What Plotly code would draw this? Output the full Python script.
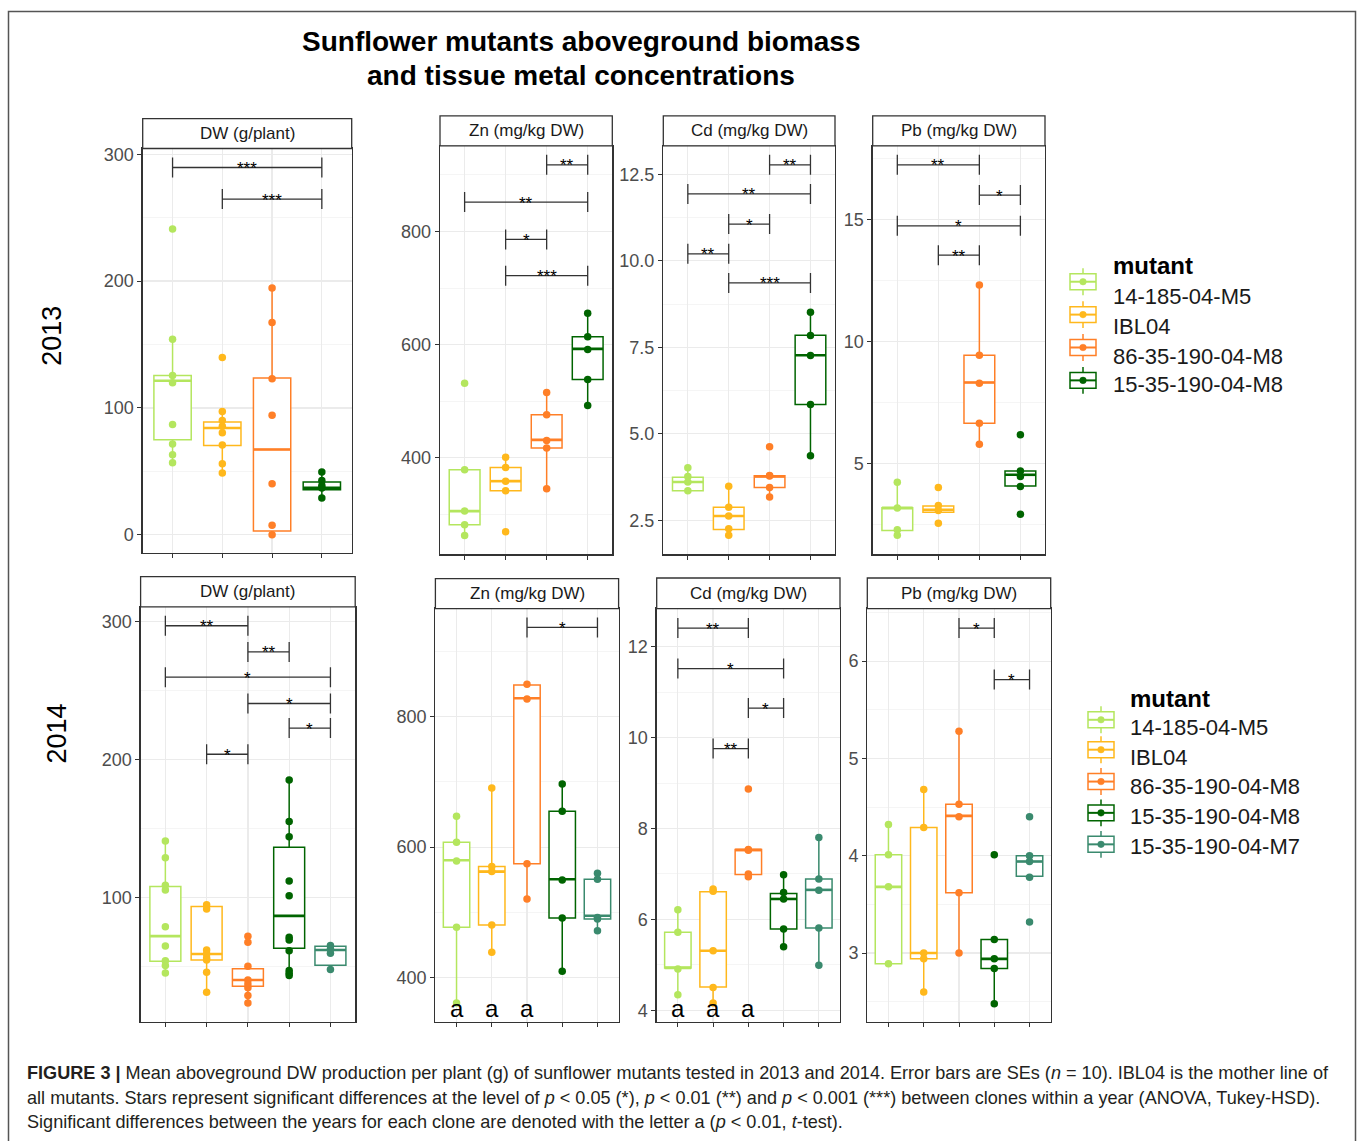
import plotly.graph_objects as go

W, H = 1358, 1141
FONT = "Liberation Sans, Arial, Helvetica, sans-serif"

mutants = ["14-185-04-M5", "IBL04", "86-35-190-04-M8", "15-35-190-04-M8", "15-35-190-04-M7"]
colors = ["#b4e65e", "#ffb81c", "#ff7f27", "#006400", "#3a8a6e"]
panel_titles = ["DW (g/plant)", "Zn (mg/kg DW)", "Cd (mg/kg DW)", "Pb (mg/kg DW)"]
years = ["2013", "2014"]

# ---------------- 2013 ----------------
dw13_points = [[241.1, 154.2, 125.6, 119.8, 86.9, 71.5, 63.0, 56.7],
               [139.7, 97.2, 90.1, 85.6, 80.4, 70.7, 56.0, 48.6],
               [194.6, 167.3, 122.9, 94.3, 40.2, 7.4, 0.0],
               [49.4, 42.8, 38.9, 36.8, 28.9]]
dw13_q1 = [74.9, 70.4, 2.9, 35.5]
dw13_med = [121.4, 84.1, 67.2, 37.0]
dw13_q3 = [125.6, 88.8, 123.5, 41.5]
dw13_lo = [56.7, 48.6, 0.0, 28.9]
dw13_hi = [154.2, 97.2, 194.6, 49.4]
dw13_sig = [(1, 4, 289.5, "***"), (2, 4, 264.6, "***")]

zn13_points = [[531.8, 378.8, 305.9, 281.8, 262.9],
               [401.2, 382.9, 358.8, 341.8, 269.4],
               [515.3, 475.9, 430.6, 417.6, 345.3],
               [655.3, 614.1, 591.2, 538.2, 492.4]]
zn13_q1 = [281.8, 341.8, 417.6, 538.2]
zn13_med = [305.9, 358.8, 431.8, 592.4]
zn13_q3 = [378.8, 382.9, 475.9, 614.1]
zn13_lo = [262.9, 341.8, 345.3, 492.4]
zn13_hi = [378.8, 401.2, 515.3, 655.3]
zn13_sig = [(3, 4, 917.6, "**"), (1, 4, 851.8, "**"), (2, 3, 785.9, "*"), (2, 4, 721.8, "***")]

cd13_points = [[4.02, 3.77, 3.61, 3.36],
               [3.49, 2.88, 2.63, 2.26, 2.07],
               [4.63, 3.80, 3.78, 3.45, 3.18],
               [8.51, 7.84, 7.26, 5.85, 4.37]]
cd13_q1 = [3.36, 2.24, 3.45, 5.85]
cd13_med = [3.61, 2.63, 3.77, 7.27]
cd13_q3 = [3.75, 2.88, 3.79, 7.85]
cd13_lo = [3.36, 2.07, 3.18, 4.37]
cd13_hi = [4.02, 3.49, 3.79, 8.51]
cd13_sig = [(3, 4, 12.77, "**"), (1, 4, 11.93, "**"), (2, 3, 11.06, "*"),
            (1, 2, 10.20, "**"), (2, 4, 9.36, "***")]

pb13_points = [[4.24, 3.19, 2.30, 2.07],
               [4.03, 3.29, 3.09, 2.56],
               [12.33, 9.45, 8.30, 6.66, 5.80],
               [6.19, 4.71, 4.48, 4.07, 2.93]]
pb13_q1 = [2.27, 3.02, 6.66, 4.09]
pb13_med = [3.20, 3.12, 8.33, 4.55]
pb13_q3 = [3.20, 3.27, 9.45, 4.71]
pb13_lo = [2.07, 3.02, 5.80, 4.09]
pb13_hi = [4.24, 3.29, 12.33, 4.71]
pb13_sig = [(1, 3, 17.25, "**"), (3, 4, 16.01, "*"), (1, 4, 14.75, "*"), (2, 3, 13.55, "**")]

# ---------------- 2014 ----------------
dw14_points = [[141.0, 128.9, 108.9, 105.5, 78.8, 64.8, 54.2, 50.6, 45.3],
               [94.7, 91.6, 61.9, 59.0, 56.1, 54.7, 45.8, 31.3],
               [71.8, 67.5, 50.1, 40.2, 37.3, 34.5, 28.9, 23.4],
               [185.3, 155.2, 144.1, 112.0, 101.2, 71.1, 69.2, 61.4, 47.0, 45.0, 43.4],
               [65.1, 62.7, 59.5, 47.7]]
dw14_q1 = [53.7, 54.7, 35.7, 63.1, 50.8]
dw14_med = [72.0, 59.0, 40.2, 86.7, 61.9]
dw14_q3 = [108.0, 93.5, 48.4, 136.4, 64.6]
dw14_lo = [45.3, 31.3, 23.4, 43.4, 47.7]
dw14_hi = [141.0, 94.7, 50.1, 185.3, 65.1]
dw14_sig = [(1, 3, 297.1, "**"), (3, 4, 278.1, "**"), (1, 5, 259.8, "*"),
            (3, 5, 240.7, "*"), (4, 5, 222.9, "*"), (2, 3, 203.9, "*")]

zn14_points = [[647.5, 607.4, 578.9, 477.3, 361.4],
               [690.7, 570.3, 562.6, 480.8, 439.1],
               [849.3, 826.9, 574.8, 520.5],
               [696.8, 655.1, 549.9, 491.5, 410.2],
               [560.1, 551.0, 492.5, 490.0, 472.2]]
zn14_q1 = [477.3, 480.8, 574.8, 491.5, 490.0]
zn14_med = [579.9, 562.6, 827.9, 551.0, 495.0]
zn14_q3 = [607.4, 570.3, 848.3, 655.1, 551.0]
zn14_lo = [361.4, 439.1, 520.5, 410.2, 472.2]
zn14_hi = [647.5, 690.7, 849.3, 696.8, 560.1]
zn14_sig = [(3, 5, 936.2, "*")]
zn14_letters = [1, 2, 3]

cd14_points = [[6.21, 5.72, 4.91, 4.34],
               [6.67, 6.62, 5.31, 4.50, 4.16],
               [8.87, 7.54, 7.52, 7.00, 6.94],
               [6.98, 6.59, 6.45, 5.79, 5.40],
               [7.80, 6.89, 6.64, 5.81, 4.99]]
cd14_q1 = [4.93, 4.51, 6.99, 5.79, 5.81]
cd14_med = [4.93, 5.31, 7.53, 6.45, 6.65]
cd14_q3 = [5.72, 6.61, 7.54, 6.57, 6.89]
cd14_lo = [4.34, 4.16, 6.94, 5.40, 4.99]
cd14_hi = [6.21, 6.67, 7.54, 6.98, 7.80]
cd14_sig = [(1, 3, 12.41, "**"), (1, 4, 11.52, "*"), (3, 4, 10.65, "*"), (2, 3, 9.76, "**")]
cd14_letters = [1, 2, 3]

pb14_points = [[4.32, 4.01, 3.68, 2.89],
               [4.68, 4.29, 3.00, 2.94, 2.60],
               [5.28, 4.53, 4.40, 3.62, 3.00],
               [4.01, 3.14, 2.94, 2.84, 2.48],
               [4.40, 4.00, 3.94, 3.78, 3.32]]
pb14_q1 = [2.89, 2.94, 3.62, 2.84, 3.79]
pb14_med = [3.68, 3.00, 4.41, 2.94, 3.94]
pb14_q3 = [4.01, 4.29, 4.53, 3.14, 4.00]
pb14_lo = [2.89, 2.60, 3.00, 2.48, 3.79]
pb14_hi = [4.32, 4.68, 5.28, 3.14, 4.00]
pb14_sig = [(3, 4, 6.34, "*"), (4, 5, 5.81, "*")]

# ---------------- layout geometry (pixels) ----------------
panels = [
    dict(t=panel_titles[0], pts=dw13_points, q1=dw13_q1, med=dw13_med, q3=dw13_q3, lo=dw13_lo, hi=dw13_hi,
         sig=dw13_sig, letters=[], g=(142.7, 351.7, 145.0, 550.7, 115.0), yr=(-14.2, 304.5), dt=100, mn=50, fmt=""),
    dict(t=panel_titles[1], pts=zn13_points, q1=zn13_q1, med=zn13_med, q3=zn13_q3, lo=zn13_lo, hi=zn13_hi,
         sig=zn13_sig, letters=[], g=(440.0, 612.3, 142.3, 552.3, 112.3), yr=(229.5, 951.2), dt=200, mn=100, fmt=""),
    dict(t=panel_titles[2], pts=cd13_points, q1=cd13_q1, med=cd13_med, q3=cd13_q3, lo=cd13_lo, hi=cd13_hi,
         sig=cd13_sig, letters=[], g=(663.3, 835.0, 142.3, 552.3, 112.3), yr=(1.52, 13.32), dt=2.5, mn=1.25, fmt=".1f"),
    dict(t=panel_titles[3], pts=pb13_points, q1=pb13_q1, med=pb13_med, q3=pb13_q3, lo=pb13_lo, hi=pb13_hi,
         sig=pb13_sig, letters=[], g=(872.7, 1045.0, 142.3, 552.3, 112.3), yr=(1.29, 18.03), dt=5, mn=2.5, fmt=""),
    dict(t=panel_titles[0], pts=dw14_points, q1=dw14_q1, med=dw14_med, q3=dw14_q3, lo=dw14_lo, hi=dw14_hi,
         sig=dw14_sig, letters=[], g=(140.6, 355.2, 605.0, 1021.7, 574.7), yr=(9.6, 310.8), dt=100, mn=50, fmt=""),
    dict(t=panel_titles[1], pts=zn14_points, q1=zn14_q1, med=zn14_med, q3=zn14_q3, lo=zn14_lo, hi=zn14_hi,
         sig=zn14_sig, letters=zn14_letters, g=(435.4, 618.6, 606.7, 1021.7, 576.7), yr=(332.3, 965.1), dt=200, mn=100, fmt=""),
    dict(t=panel_titles[2], pts=cd14_points, q1=cd14_q1, med=cd14_med, q3=cd14_q3, lo=cd14_lo, hi=cd14_hi,
         sig=cd14_sig, letters=cd14_letters, g=(656.7, 840.0, 606.7, 1021.7, 576.0), yr=(3.74, 12.84), dt=2, mn=1, fmt=""),
    dict(t=panel_titles[3], pts=pb14_points, q1=pb14_q1, med=pb14_med, q3=pb14_q3, lo=pb14_lo, hi=pb14_hi,
         sig=pb14_sig, letters=[], g=(867.3, 1050.7, 606.7, 1021.7, 576.0), yr=(2.29, 6.54), dt=1, mn=0.5, fmt=""),
]


def px(x):
    return x / W


def py(y):
    return 1 - y / H


fig = go.Figure()
layout = dict(width=W, height=H, margin=dict(l=0, r=0, t=0, b=0),
              paper_bgcolor="white", plot_bgcolor="white",
              font=dict(family=FONT, color="#1a1a1a"),
              showlegend=False, boxmode="overlay")
shapes = []
annotations = []
BW = 0.75

for i, p in enumerate(panels):
    k = i + 1
    xa = "x" if k == 1 else f"x{k}"
    ya = "y" if k == 1 else f"y{k}"
    n = len(p["pts"])
    x0, x1, yt, yb, st = p["g"]

    layout[f"xaxis{k}"] = dict(domain=[px(x0), px(x1)], range=[0.4, n + 0.6], anchor=ya,
                               tickmode="array", tickvals=list(range(1, n + 1)), showticklabels=False,
                               ticks="outside", ticklen=4, tickwidth=1, tickcolor="#333333",
                               showline=True, mirror=True, linecolor="#333333", linewidth=1.3,
                               showgrid=True, gridcolor="#ebebeb", gridwidth=1.2, zeroline=False,
                               fixedrange=True)
    layout[f"yaxis{k}"] = dict(domain=[py(yb), py(yt)], range=list(p["yr"]), anchor=xa,
                               tickmode="linear", tick0=0, dtick=p["dt"], tickformat=p["fmt"],
                               minor=dict(dtick=p["mn"], tick0=0, showgrid=True, gridcolor="#f3f3f3",
                                          gridwidth=0.8, ticks=""),
                               ticks="outside", ticklen=4, tickwidth=1, tickcolor="#333333",
                               tickfont=dict(size=18, color="#4d4d4d", family=FONT),
                               showline=True, mirror=True, linecolor="#333333", linewidth=1.3,
                               showgrid=True, gridcolor="#ebebeb", gridwidth=1.2, zeroline=False,
                               fixedrange=True)

    for j in range(n):
        fig.add_trace(go.Box(
            x=[j + 1], q1=[p["q1"][j]], median=[p["med"][j]], q3=[p["q3"][j]],
            lowerfence=[p["lo"][j]], upperfence=[p["hi"][j]],
            width=BW, whiskerwidth=0, boxpoints=False,
            line=dict(color=colors[j], width=1.5), fillcolor="white",
            name=mutants[j], showlegend=False, xaxis=xa, yaxis=ya, hoverinfo="skip"))
    for j in range(n):
        fig.add_trace(go.Scatter(
            x=[j + 1 - BW / 2, j + 1 + BW / 2], y=[p["med"][j], p["med"][j]],
            mode="lines", line=dict(color=colors[j], width=2.6), showlegend=False,
            xaxis=xa, yaxis=ya, hoverinfo="skip"))
    for j in range(n):
        fig.add_trace(go.Scatter(
            x=[j + 1] * len(p["pts"][j]), y=p["pts"][j], mode="markers", name=mutants[j],
            marker=dict(color=colors[j], size=7.5, line=dict(width=0)),
            showlegend=False, xaxis=xa, yaxis=ya, hoverinfo="skip"))
    for (a, b, yv, lab) in p["sig"]:
        fig.add_trace(go.Scatter(
            x=[(a + b) / 2], y=[yv], mode="markers",
            marker=dict(size=1, color="rgba(0,0,0,0)"),
            error_x=dict(type="data", array=[(b - a) / 2], symmetric=True,
                         color="#333333", thickness=1.3, width=10),
            showlegend=False, xaxis=xa, yaxis=ya, hoverinfo="skip"))
        annotations.append(dict(x=(a + b) / 2, y=yv, xref=xa, yref=ya, text=lab, showarrow=False,
                                xanchor="center", yanchor="middle", yshift=-1,
                                font=dict(size=17, color="#000000", family=FONT)))
    for c in p["letters"]:
        annotations.append(dict(x=c, y=0, xref=xa, yref=f"{ya} domain", text="a", showarrow=False,
                                xanchor="center", yanchor="bottom", yshift=-2,
                                font=dict(size=24, color="#000000", family=FONT)))
    shapes.append(dict(type="rect", xref="paper", yref="paper", x0=px(x0), x1=px(x1),
                       y0=py(yt), y1=py(st), line=dict(color="#333333", width=1.3),
                       fillcolor="white", layer="above"))
    annotations.append(dict(x=px((x0 + x1) / 2), y=py((yt + st) / 2), xref="paper", yref="paper",
                            text=p["t"], showarrow=False, xanchor="center", yanchor="middle",
                            font=dict(size=17, color="#1a1a1a", family=FONT)))

# outer frame
shapes.append(dict(type="rect", xref="paper", yref="paper", x0=px(8.5), x1=px(1355.5),
                   y0=-0.05, y1=py(7.5), line=dict(color="#555555", width=1.5),
                   fillcolor="rgba(0,0,0,0)", layer="below"))

# title
for txt, yy in [("<b>Sunflower mutants aboveground biomass</b>", 38),
                ("<b>and tissue metal concentrations</b>", 72)]:
    annotations.append(dict(x=px(581), y=py(yy), xref="paper", yref="paper", text=txt, showarrow=False,
                            xanchor="center", yanchor="middle",
                            font=dict(size=28, color="#000000", family=FONT)))

# row labels
for txt, xx, yy in [(years[0], 52, 333), (years[1], 57, 732)]:
    annotations.append(dict(x=px(xx), y=py(yy), xref="paper", yref="paper", text=txt, textangle=-90,
                            showarrow=False, xanchor="center", yanchor="middle",
                            font=dict(size=27, color="#000000", family=FONT)))

# legends (ggplot-style boxplot keys)
legend_specs = [
    dict(n=4, kx=1083, title_y=262, text_x=1111, key_y=[278.7, 311.7, 344.7, 377.7],
         text_y=[293.3, 323.3, 353.3, 381.7]),
    dict(n=5, kx=1101, title_y=697, text_x=1128, key_y=[718.3, 748.3, 780.3, 811.7, 843.3],
         text_y=[725.7, 755.7, 785.7, 815.3, 845.0]),
]
for L in legend_specs:
    annotations.append(dict(x=px(L["text_x"]), y=py(L["title_y"]), xref="paper", yref="paper",
                            text="<b>mutant</b>", showarrow=False, xanchor="left", yanchor="middle",
                            font=dict(size=24, color="#000000", family=FONT)))
    for j in range(L["n"]):
        cx, cy, c = L["kx"], L["key_y"][j], colors[j]
        ln = dict(color=c, width=1.5)
        shapes.append(dict(type="line", xref="paper", yref="paper", x0=px(cx), x1=px(cx),
                           y0=py(cy - 13.5), y1=py(cy + 13.5), line=ln))
        shapes.append(dict(type="rect", xref="paper", yref="paper", x0=px(cx - 13), x1=px(cx + 13),
                           y0=py(cy + 8), y1=py(cy - 8), line=ln, fillcolor="white"))
        shapes.append(dict(type="line", xref="paper", yref="paper", x0=px(cx - 13), x1=px(cx + 13),
                           y0=py(cy), y1=py(cy), line=dict(color=c, width=2)))
        shapes.append(dict(type="circle", xref="paper", yref="paper", x0=px(cx - 3.3), x1=px(cx + 3.3),
                           y0=py(cy + 3.3), y1=py(cy - 3.3), line=dict(color=c, width=0.5), fillcolor=c))
        annotations.append(dict(x=px(L["text_x"]), y=py(L["text_y"][j]), xref="paper", yref="paper",
                                text=mutants[j], showarrow=False, xanchor="left", yanchor="middle",
                                font=dict(size=22, color="#1a1a1a", family=FONT)))

# caption
cap_font = dict(size=18.1, color="#231f20", family=FONT)
caption = [
    "<b>FIGURE 3 |</b> Mean aboveground DW production per plant (g) of sunflower mutants tested in 2013 and 2014. "
    "Error bars are SEs (<i>n</i> = 10). IBL04 is the mother line of",
    "all mutants. Stars represent significant differences at the level of <i>p</i> &lt; 0.05 (*), "
    "<i>p</i> &lt; 0.01 (**) and <i>p</i> &lt; 0.001 (***) between clones within a year (ANOVA, Tukey-HSD).",
    "Significant differences between the years for each clone are denoted with the letter a "
    "(<i>p</i> &lt; 0.01, <i>t</i>-test).",
]
for line, yy in zip(caption, [1073, 1098, 1122]):
    annotations.append(dict(x=px(25), y=py(yy), xref="paper", yref="paper", text=line, showarrow=False,
                            xanchor="left", yanchor="middle", font=cap_font))

layout["shapes"] = shapes
layout["annotations"] = annotations
fig.update_layout(**layout)
fig.write_html("out.html", config={"displayModeBar": False, "staticPlot": True},
               post_script="document.body.style.margin='0px';document.body.style.overflow='hidden';")
